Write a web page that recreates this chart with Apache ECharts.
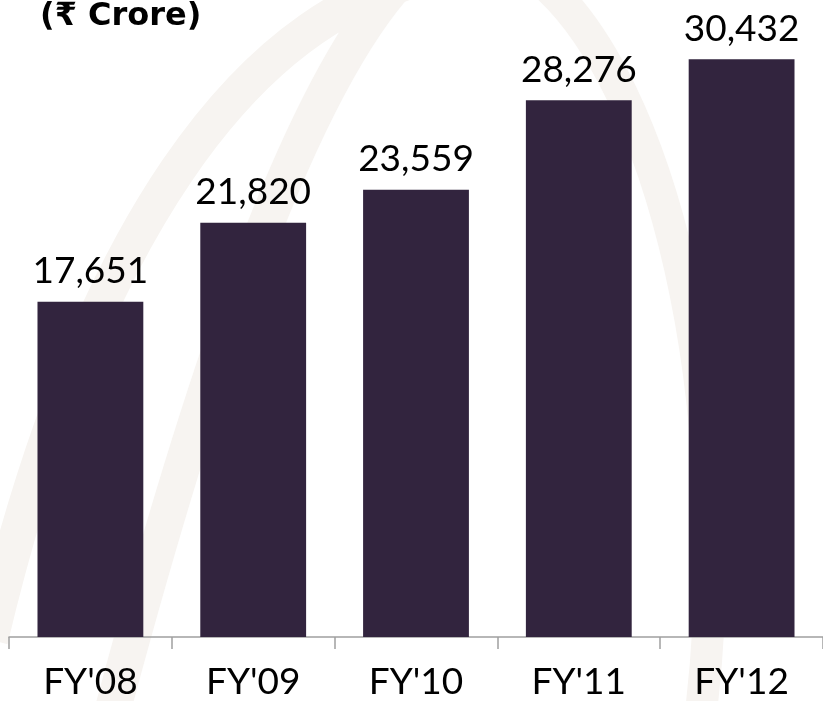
<!DOCTYPE html>
<html>
<head>
<meta charset="utf-8">
<script src="https://cdn.jsdelivr.net/npm/echarts@6/dist/echarts.min.js"></script>
<style>
html,body{margin:0;padding:0;background:#ffffff;}
#chart{width:823px;height:701px;}
</style>
</head>
<body>
<div id="chart"></div>
<script>
const categories = ["FY'08", "FY'09", "FY'10", "FY'11", "FY'12"];
const values = [17651, 21820, 23559, 28276, 30432];
const titleText = "(\u20B9 Crore)";

const chart = echarts.init(document.getElementById('chart'), null, {renderer: 'canvas'});
const labelFont = "'Lato', sans-serif";
const band = '#f7f4f1';
chart.setOption({
  animation: false,
  backgroundColor: '#ffffff',
  title: {
    text: titleText,
    left: 40,
    top: 1,
    padding: 0,
    textStyle: {fontFamily: "'DejaVu Sans', sans-serif", fontWeight: 'bold', fontSize: 32, color: '#000000'}
  },
  graphic: [
    {type: 'bezierCurve', z: -10, silent: true,
      shape: {x1: -10, y1: 640, x2: 470, y2: -30, cpx1: 80, cpy1: 260, cpx2: 240, cpy2: -10},
      style: {stroke: band, lineWidth: 36, fill: null}},
    {type: 'bezierCurve', z: -10, silent: true,
      shape: {x1: 110, y1: 720, x2: 400, y2: -20, cpx1: 190, cpy1: 420, cpx2: 290, cpy2: 100},
      style: {stroke: band, lineWidth: 36, fill: null}},
    {type: 'bezierCurve', z: -10, silent: true,
      shape: {x1: 540, y1: -20, x2: 700, y2: 720, cpx1: 660, cpy1: 80, cpx2: 740, cpy2: 400},
      style: {stroke: band, lineWidth: 32, fill: null}}
  ],
  grid: {left: 9, right: -8.5, top: 0, bottom: 63, containLabel: false},
  xAxis: {
    type: 'category',
    data: categories,
    axisLine: {show: true, lineStyle: {color: '#a0a0a0', width: 1.5}},
    axisTick: {show: true, length: 12, lineStyle: {color: '#a0a0a0', width: 1.5}},
    axisLabel: {margin: 27, fontFamily: labelFont, fontSize: 37, color: '#000000'}
  },
  yAxis: {
    type: 'value', min: 0, max: 33550, show: false,
    splitLine: {show: false}
  },
  series: [{
    type: 'bar',
    data: values,
    barWidth: '65%',
    itemStyle: {color: '#32243e'},
    label: {
      show: true, position: 'top', distance: 12,
      fontFamily: labelFont, fontSize: 37, color: '#000000',
      formatter: p => p.value.toLocaleString('en-US')
    }
  }]
});
</script>
</body>
</html>
